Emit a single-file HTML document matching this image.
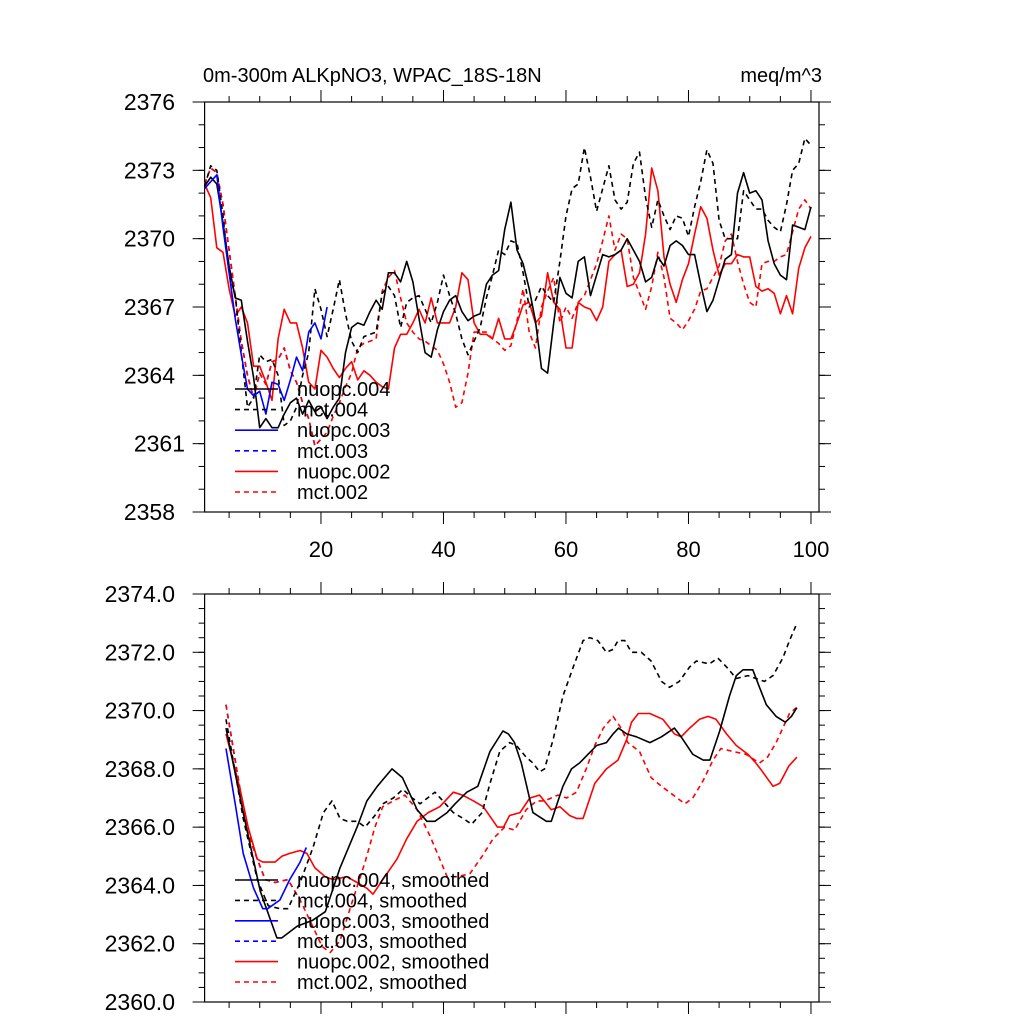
<!DOCTYPE html>
<html><head><meta charset="utf-8"><style>
html,body{margin:0;padding:0;background:#fff;}
svg{display:block;font-family:"Liberation Sans",sans-serif;}
</style></head><body>
<svg id="chart" width="1024" height="1024" viewBox="0 0 1024 1024" xmlns="http://www.w3.org/2000/svg">
<text x="203" y="82" font-size="20">0m-300m ALKpNO3, WPAC_18S-18N</text>
<text x="822" y="82" font-size="20" text-anchor="end">meq/m^3</text>
<g id="top"></g>
<g id="bot"></g>
</svg>
<script>
// ---------- data: top panel (x = 1..N) ----------
const topNuopc004 = [2372.3,2372.7,2372.4,2370.7,2368.8,2367.4,2367.3,2365.5,2363.9,2361.7,
2362.1,2361.7,2361.7,2362.3,2362.8,2363.0,2362.3,2362.9,2362.4,2362.6,
2362.1,2362.6,2363.0,2365.0,2366.1,2366.3,2366.2,2366.8,2367.3,2366.9,
2368.5,2368.5,2368.1,2369.0,2368.1,2366.5,2365.0,2364.8,2366.0,2366.8,
2367.3,2367.5,2366.8,2366.4,2366.6,2366.7,2368.0,2368.4,2368.6,2370.4,
2371.6,2369.5,2368.9,2367.8,2366.4,2364.3,2364.1,2366.3,2368.3,2367.6,
2367.4,2369.0,2369.2,2367.5,2368.4,2369.3,2369.2,2369.3,2369.5,2370.0,
2369.5,2369.0,2368.1,2368.3,2369.2,2368.8,2369.7,2369.9,2369.7,2369.3,
2369.3,2368.0,2366.8,2367.3,2368.2,2369.1,2369.3,2372.0,2372.9,2372.0,
2372.1,2371.7,2369.9,2368.9,2368.4,2368.2,2370.6,2370.5,2370.4,2371.4];
const topMct004 = [2372.3,2373.2,2373.0,2371.0,2368.5,2367.5,2365.0,2362.6,2363.0,2364.9,
2364.6,2364.7,2364.0,2361.8,2362.0,2362.6,2364.0,2365.0,2367.8,2366.9,
2365.7,2366.9,2368.2,2366.7,2365.5,2365.0,2365.7,2365.8,2365.9,2367.6,
2367.9,2367.5,2366.1,2367.2,2367.4,2367.5,2366.9,2366.3,2367.2,2368.4,
2367.5,2366.7,2365.6,2364.9,2365.5,2366.1,2367.4,2368.4,2369.5,2369.3,
2369.9,2369.8,2368.5,2367.0,2367.3,2367.9,2367.5,2367.2,2369.0,2371.0,
2372.2,2372.4,2374.0,2372.7,2371.2,2372.2,2373.2,2371.7,2371.3,2371.6,
2373.3,2373.8,2371.8,2370.5,2371.7,2371.0,2370.4,2371.0,2370.9,2370.1,
2371.4,2372.5,2373.9,2373.3,2370.8,2370.0,2370.0,2370.0,2372.1,2371.7,
2371.3,2371.3,2370.8,2370.5,2370.3,2371.5,2373.0,2373.3,2374.4,2374.1];
const topNuopc003 = [2372.2,2372.5,2372.8,2370.5,2368.5,2366.5,2364.9,2363.4,2363.1,2363.3,
2362.3,2363.7,2363.6,2362.9,2363.8,2364.8,2364.2,2365.9,2366.3,2365.6,2367.0];
const topMct003 = [2372.4,2373.1,2372.9,2371.5,2369.5,2367.5,2365.5,2364.0,2363.0,2364.1,
2363.6,2364.6,2364.7,2365.2,2364.2,2363.7,2362.8,2362.1,2360.9,2361.2];
const topNuopc002 = [2372.4,2371.8,2369.6,2369.4,2367.8,2366.6,2367.0,2366.3,2364.4,2364.4,
2363.7,2362.9,2365.6,2366.9,2366.3,2366.3,2365.2,2363.7,2363.4,2365.1,
2364.8,2364.3,2363.9,2364.3,2364.6,2363.8,2364.2,2364.0,2363.7,2363.5,
2363.4,2365.2,2365.8,2365.8,2366.3,2366.9,2366.3,2367.4,2366.3,2366.3,
2366.3,2367.0,2368.5,2368.2,2366.3,2365.8,2365.8,2365.6,2366.5,2365.6,
2365.6,2366.3,2367.1,2367.2,2366.3,2366.6,2368.5,2367.2,2366.9,2365.2,
2365.2,2367.2,2367.0,2366.9,2366.4,2367.0,2369.0,2369.3,2369.5,2367.9,
2368.0,2368.5,2370.2,2373.1,2372.1,2369.2,2368.0,2367.2,2368.2,2368.9,
2370.2,2371.4,2370.9,2369.5,2368.4,2368.9,2368.9,2369.3,2369.2,2369.2,
2367.9,2367.7,2367.8,2367.6,2366.7,2367.5,2366.7,2368.7,2369.6,2370.1];
const topMct002 = [2372.4,2373.1,2372.9,2371.5,2369.5,2367.5,2365.5,2364.0,2363.0,2364.1,
2363.6,2364.6,2364.7,2365.2,2364.2,2363.7,2362.8,2362.1,2360.9,2361.2,
2361.5,2362.2,2362.8,2363.5,2364.1,2365.2,2365.4,2365.5,2365.6,2367.7,
2368.3,2368.6,2367.4,2366.3,2365.9,2365.6,2365.5,2365.3,2365.1,2364.5,
2363.7,2362.6,2362.8,2364.1,2365.9,2365.9,2365.9,2365.6,2365.4,2365.1,
2365.3,2366.4,2367.8,2365.9,2365.2,2367.0,2367.7,2368.3,2366.3,2367.0,
2366.5,2367.2,2367.5,2368.2,2368.9,2369.9,2371.0,2369.5,2370.2,2370.0,
2368.3,2367.6,2366.9,2367.9,2369.4,2368.3,2366.5,2366.3,2366.0,2366.4,
2366.9,2367.7,2367.8,2368.3,2368.8,2369.9,2370.2,2369.0,2368.0,2367.2,
2367.0,2368.9,2369.0,2369.0,2369.2,2369.3,2370.3,2371.3,2371.7,2371.3];
const topYTicks = [2358,2361,2364,2367,2370,2373,2376];
const topYTickLabels = ["2358","2361","2364","2367","2370","2373","2376"];
const xTicks = [20,40,60,80,100];
const xTickLabels = ["20","40","60","80","100"];

// ---------- data: bottom panel (smoothed) ----------
const botNuopc004X = [4.5,7.3,10.1,12.8,13.6,16.1,18.6,20.7,23.1,25.9,27.5,29.2,31.6,33.3,35.7,37.3,38.6,40.6,41.9,43.8,45.6,47.6,49.7,50.6,51.6,52.7,54.6,56.8,57.6,59.5,60.9,62.2,63.6,65.0,66.6,67.7,68.6,69.9,71.5,73.7,75.6,77.7,78.8,80.7,82.4,83.5,85.1,86.7,87.8,88.9,90.5,91.6,92.7,94.3,95.8,96.8,97.7];
const botNuopc004 = [2369.4,2366.5,2363.8,2362.2,2362.2,2362.6,2362.8,2363.1,2364.6,2366.0,2366.9,2367.4,2368.0,2367.7,2366.6,2366.2,2366.2,2366.5,2366.8,2367.2,2367.4,2368.6,2369.3,2369.2,2368.9,2368.2,2366.5,2366.2,2366.2,2367.4,2368.0,2368.2,2368.5,2368.8,2368.9,2369.2,2369.4,2369.2,2369.1,2368.9,2369.1,2369.4,2369.1,2368.5,2368.3,2368.3,2369.3,2370.5,2371.2,2371.4,2371.4,2370.8,2370.2,2369.8,2369.6,2369.8,2370.1];
const botMct004X = [4.5,7.3,9.6,11.4,13.3,14.6,16.6,18.7,20.4,21.8,23.1,24.3,25.9,27.2,28.8,30.1,31.8,33.4,34.9,36.2,38.6,39.9,41.6,43.2,44.6,46.3,47.6,49.2,50.8,51.9,53.5,54.6,55.7,56.5,57.9,59.5,61.2,62.8,63.9,65.2,66.6,67.7,68.5,69.6,70.7,72.3,73.9,75.6,76.9,78.5,80.2,81.3,83.4,84.8,86.2,87.8,89.7,91.0,92.4,93.8,95.4,96.5,97.5];
const botMct004 = [2369.7,2366.3,2364.2,2363.3,2363.2,2363.2,2364.1,2365.3,2366.5,2366.9,2366.3,2366.2,2366.2,2366.0,2366.4,2366.8,2367.0,2367.3,2367.0,2366.8,2367.2,2366.9,2366.5,2366.3,2366.1,2366.5,2367.5,2368.6,2368.9,2368.8,2368.4,2368.2,2367.9,2368.0,2369.0,2370.5,2371.5,2372.4,2372.5,2372.4,2372.0,2372.1,2372.4,2372.4,2372.0,2372.0,2371.7,2371.0,2370.8,2371.0,2371.5,2371.7,2371.6,2371.8,2371.5,2371.1,2371.2,2371.1,2371.0,2371.2,2371.8,2372.4,2372.9];
const botNuopc003X = [4.5,6,7.3,9,10.5,11.3,13.3,14.9,16.6,17.6];
const botNuopc003 = [2368.7,2366.8,2365.1,2363.9,2363.2,2363.2,2363.5,2364.2,2364.8,2365.3];
const botMct003X = [4.5,6.3,7.9,9.6,10.9,12.5,14.6,16.6];
const botMct003 = [2370.2,2367.9,2365.9,2364.9,2364.2,2364.1,2364.2,2363.5];
const botNuopc002X = [4.5,6.8,8.1,9.6,10.5,12.5,13.6,14.9,16.6,17.7,19.0,20.7,22,24.2,25.9,27.5,28.5,30.1,32.4,34.0,35.7,37.5,39.4,41.6,43.1,44.9,46.5,48.8,49.8,50.8,52.5,54.1,55.7,57.6,59.0,60.6,61.7,62.8,64.7,66.6,68.5,69.9,70.7,71.8,73.7,75.8,77.7,78.8,80.2,81.8,83.2,84.5,86.2,87.8,89.7,91.0,92.1,93.8,94.9,96.4,97.7];
const botNuopc002 = [2369.2,2367.3,2366.0,2364.9,2364.8,2364.8,2365.0,2365.1,2365.2,2365.1,2364.6,2364.3,2364.2,2364.3,2364.1,2363.9,2363.7,2364.2,2364.9,2365.6,2366.2,2366.5,2366.7,2367.2,2367.1,2366.9,2366.7,2366.0,2366.0,2366.4,2366.5,2367.0,2367.1,2366.6,2366.7,2366.4,2366.3,2366.3,2367.5,2368.0,2368.3,2369.0,2369.6,2369.9,2369.9,2369.7,2369.2,2369.1,2369.4,2369.7,2369.8,2369.7,2369.2,2368.8,2368.5,2368.2,2367.9,2367.4,2367.5,2368.1,2368.4];
const botMct002X = [4.5,6.3,7.9,9.6,10.9,12.5,14.6,16.6,18.2,20.2,21.5,23.1,25.2,27.2,28.8,30.1,31.8,33.7,35.7,37.8,39.4,40.6,42.2,44.3,46.3,48.1,50.0,51.6,53.5,55.2,56.5,58.7,60.1,61.7,63.3,64.7,66.1,67.7,69.0,70.1,72.0,73.9,75.6,76.9,79.4,80.7,82.4,84.0,85.3,87.2,89.4,91.6,92.9,94.3,95.4,96.5,97.6];
const botMct002 = [2370.2,2367.9,2365.9,2364.9,2364.2,2364.1,2364.2,2363.5,2362.8,2361.9,2361.7,2362.1,2363.5,2364.8,2366.0,2366.7,2366.9,2367.1,2366.6,2365.7,2364.9,2364.3,2364.3,2364.4,2365.0,2365.6,2366.0,2365.9,2366.6,2366.9,2366.9,2367.1,2367.0,2367.2,2368.0,2368.8,2369.4,2369.8,2369.4,2368.9,2368.6,2367.7,2367.4,2367.2,2366.8,2367.0,2367.6,2368.3,2368.7,2368.6,2368.5,2368.2,2368.4,2368.9,2369.4,2369.9,2370.1];
const botYTicks = [2360,2362,2364,2366,2368,2370,2372,2374];
const botYTickLabels = ["2360.0","2362.0","2364.0","2366.0","2368.0","2370.0","2372.0","2374.0"];

const topLegend = ["nuopc.004","mct.004","nuopc.003","mct.003","nuopc.002","mct.002"];
const botLegend = ["nuopc.004, smoothed","mct.004, smoothed","nuopc.003, smoothed","mct.003, smoothed","nuopc.002, smoothed","mct.002, smoothed"];

// ---------- layout ----------
const NS = "http://www.w3.org/2000/svg";
const L = 204.6, R = 819, X0 = 1, XS = 6.125;
const xs = v => L + (v - X0) * XS;
const topY = v => 102 + (2376 - v) * (410 / 18);
const botY = v => 594 + (2374 - v) * (408 / 14);
const styles = [
  {c:"#000", d:null},{c:"#000", d:"5,4"},{c:"#0000ff", d:null},
  {c:"#0000ff", d:"5,4"},{c:"#ff0000", d:null},{c:"#ff0000", d:"5,4"}];

function mk(tag, attrs, parent){
  const e = document.createElementNS(NS, tag);
  for (const k in attrs) e.setAttribute(k, attrs[k]);
  parent.appendChild(e);
  return e;
}
function line(g,x1,y1,x2,y2,w){ return mk("line",{x1,y1,x2,y2,stroke:"#000","stroke-width":w||1},g); }

function drawFrame(g, yT, yB, yFn, ymin, ymax, minorStep, yticks, ylabels, showXLabels, prefix){
  const fr = mk("rect",{x:L,y:yT,width:R-L,height:yB-yT,fill:"none",stroke:"#000","stroke-width":1.2},g);
  
  
  for (let v = 5; v <= 100; v += 5) {
    const major = v % 20 === 0, len = major ? 12 : 6, px = xs(v);
    const t1 = line(g, px, yB, px, yB + len, 1);
    
    
    const t2 = line(g, px, yT, px, yT - len, 1);
    
    
  }
  if (showXLabels) {
    xTicks.forEach((v,i) => {
      const t = mk("text",{x:xs(v),y:yB+45,"font-size":22,"text-anchor":"middle"},g);
      t.textContent = xTickLabels[i];
      
      
    });
  }
  for (let v = ymin; v <= ymax + 1e-6; v += minorStep) {
    const py = yFn(v);
    const a = line(g, L, py, L - 6, py, 1);
    
    
    const b = line(g, R, py, R + 6, py, 1);
    
    
  }
  yticks.forEach((v,i) => {
    const py = yFn(v);
    const a = line(g, L, py, L - 12, py, 1);
    
    
    const b = line(g, R, py, R + 12, py, 1);
    
    
    const lx = (ylabels[i] === "2361") ? 185 : 175;
    const t = mk("text",{x:lx,y:py+8,"font-size":23,"text-anchor":"end"},g);
    t.textContent = ylabels[i];
    
    
  });
}

function series(g, xsArr, vals, yFn, st, name){
  const pts = vals.map((v,i) => xs(xsArr[i]).toFixed(1) + "," + yFn(v).toFixed(1)).join(" ");
  const a = {points:pts, fill:"none", stroke:st.c, "stroke-width":1.6, "stroke-linejoin":"round"};
  if (st.d) a["stroke-dasharray"] = st.d;
  const p = mk("polyline", a, g);
  
  
}

function legend(g, labels, y0, dy, prefix){
  labels.forEach((lab,i) => {
    const y = y0 + i*dy, st = styles[i];
    const entry = mk("g",{},g);
    
    
    const a = {x1:235,y1:y,x2:278,y2:y,stroke:st.c,"stroke-width":1.6};
    if (st.d) a["stroke-dasharray"] = st.d;
    const ln = mk("line", a, entry);
    
    
    const t = mk("text",{x:297,y:y+7,"font-size":20},entry);
    t.textContent = lab;
    
    
  });
}

const gt = document.getElementById("top");


const gb = document.getElementById("bot");



drawFrame(gt, 102, 512, topY, 2358, 2376, 1, topYTicks, topYTickLabels, true, "top");
const idx = n => Array.from({length:n}, (_,i) => i + 1);
series(gt, idx(topMct003.length), topMct003, topY, styles[3], "line-mct-003");
series(gt, idx(topMct002.length), topMct002, topY, styles[5], "line-mct-002");
series(gt, idx(topNuopc002.length), topNuopc002, topY, styles[4], "line-nuopc-002");
series(gt, idx(topMct004.length), topMct004, topY, styles[1], "line-mct-004");
series(gt, idx(topNuopc004.length), topNuopc004, topY, styles[0], "line-nuopc-004");
series(gt, idx(topNuopc003.length), topNuopc003, topY, styles[2], "line-nuopc-003");
legend(gt, topLegend, 389, 20.6, "top");

drawFrame(gb, 594, 1002, botY, 2360, 2374, 0.5, botYTicks, botYTickLabels, false, "bottom");
series(gb, botMct003X, botMct003, botY, styles[3], "smoothed-mct-003");
series(gb, botMct002X, botMct002, botY, styles[5], "smoothed-mct-002");
series(gb, botNuopc002X, botNuopc002, botY, styles[4], "smoothed-nuopc-002");
series(gb, botMct004X, botMct004, botY, styles[1], "smoothed-mct-004");
series(gb, botNuopc004X, botNuopc004, botY, styles[0], "smoothed-nuopc-004");
series(gb, botNuopc003X, botNuopc003, botY, styles[2], "smoothed-nuopc-003");
legend(gb, botLegend, 880, 20.4, "bottom");
</script>
</body></html>
